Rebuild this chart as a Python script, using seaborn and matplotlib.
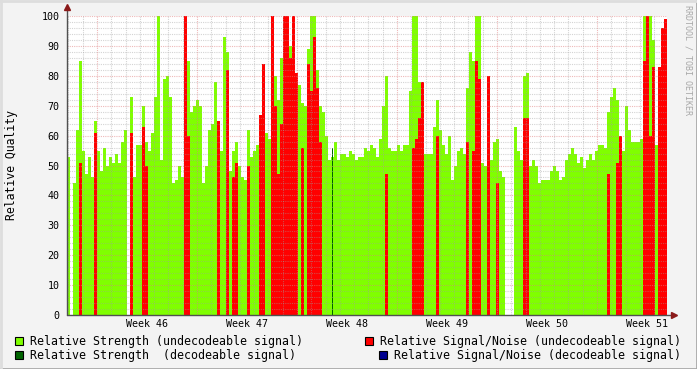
import numpy as np
import pandas as pd
import matplotlib
matplotlib.use("Agg")
import matplotlib.pyplot as plt
import seaborn as sns
from matplotlib.patches import Rectangle
from matplotlib.lines import Line2D

# ---------------- data (one value per ~5 hour step, 200 steps over 6 weeks) -------------
strength_undecodeable = [
    53, 0, 44, 62, 85, 55, 47, 53, 46, 65, 55, 48, 56, 50, 53, 51, 54, 51, 58, 62,
    0, 73, 46, 57, 57, 70, 58, 55, 61, 73, 100, 52, 79, 80, 73, 44, 45, 50, 46, 62,
    85, 68, 70, 72, 70, 44, 50, 62, 64, 78, 58, 55, 93, 88, 48, 55, 58, 50, 46, 45,
    62, 53, 55, 57, 67, 84, 61, 59, 82, 80, 72, 86, 80, 99, 90, 90, 71, 77, 71, 70,
    89, 100, 100, 82, 70, 68, 60, 52, 53, 58, 52, 54, 54, 53, 55, 54, 52, 53, 53, 56,
    55, 57, 56, 53, 59, 70, 80, 56, 55, 55, 57, 55, 57, 57, 75, 100, 100, 78, 70, 54,
    54, 54, 63, 72, 62, 57, 54, 60, 45, 50, 55, 56, 54, 76, 88, 85, 100, 100, 51, 50,
    45, 52, 58, 59, 48, 46, 0, 0, 0, 63, 55, 52, 80, 81, 50, 52, 50, 44, 45, 45,
    45, 48, 50, 48, 45, 46, 52, 54, 56, 54, 51, 53, 49, 52, 54, 52, 55, 57, 57, 56,
    68, 73, 76, 72, 60, 55, 70, 62, 58, 58, 58, 59, 100, 100, 100, 92, 57, 57, 57, 57,
]
snr_undecodeable = [
    0, 0, 0, 0, 51, 0, 0, 0, 0, 61, 0, 0, 0, 0, 0, 0, 0, 0, 0, 0,
    0, 61, 0, 0, 0, 63, 50, 0, 0, 0, 0, 0, 0, 0, 0, 0, 0, 0, 0, 100,
    60, 0, 0, 0, 0, 0, 0, 0, 0, 0, 65, 0, 0, 82, 0, 46, 51, 0, 0, 0,
    50, 0, 0, 0, 67, 84, 0, 0, 100, 70, 47, 64, 100, 100, 86, 100, 81, 0, 56, 0,
    84, 75, 93, 76, 58, 0, 0, 0, 0, 0, 0, 0, 0, 0, 0, 0, 0, 0, 0, 0,
    0, 0, 0, 0, 0, 0, 47, 0, 0, 0, 0, 0, 0, 0, 0, 56, 59, 66, 78, 0,
    0, 0, 0, 60, 0, 0, 0, 0, 0, 0, 0, 0, 0, 58, 0, 55, 85, 79, 0, 0,
    80, 0, 0, 44, 0, 0, 0, 0, 0, 0, 0, 0, 66, 66, 0, 0, 0, 0, 0, 0,
    0, 0, 0, 0, 0, 0, 0, 0, 0, 0, 0, 0, 0, 0, 0, 0, 0, 0, 0, 0,
    47, 0, 0, 51, 60, 0, 0, 0, 0, 0, 0, 0, 85, 100, 60, 83, 0, 83, 96, 99,
]
strength_decodeable = [
    0, 0, 0, 0, 0, 0, 0, 0, 0, 0, 0, 0, 0, 0, 0, 0, 0, 0, 0, 0,
    0, 0, 0, 0, 0, 0, 0, 0, 0, 0, 0, 0, 0, 0, 0, 0, 0, 0, 0, 0,
    0, 0, 0, 0, 0, 0, 0, 0, 0, 0, 0, 0, 0, 0, 0, 0, 0, 0, 0, 0,
    0, 0, 0, 0, 0, 0, 0, 0, 0, 0, 0, 0, 0, 0, 0, 0, 0, 0, 0, 0,
    0, 0, 0, 0, 0, 0, 0, 0, 56, 0, 0, 0, 0, 0, 0, 0, 0, 0, 0, 0,
    0, 0, 0, 0, 0, 0, 0, 0, 0, 0, 0, 0, 0, 0, 0, 0, 0, 0, 0, 0,
    0, 0, 0, 0, 0, 0, 0, 0, 0, 0, 0, 0, 0, 0, 0, 0, 0, 0, 0, 0,
    0, 0, 0, 0, 0, 0, 0, 0, 0, 0, 0, 0, 0, 0, 0, 0, 0, 0, 0, 0,
    0, 0, 0, 0, 0, 0, 0, 0, 0, 0, 0, 0, 0, 0, 0, 0, 0, 0, 0, 0,
    0, 0, 0, 0, 0, 0, 0, 0, 0, 0, 0, 0, 0, 0, 0, 0, 0, 0, 0, 0,
]
week_labels = ["Week 46", "Week 47", "Week 48", "Week 49", "Week 50", "Week 51"]
legend_labels = [
    "Relative Strength (undecodeable signal)",
    "Relative Strength  (decodeable signal)",
    "Relative Signal/Noise (undecodeable signal)",
    "Relative Signal/Noise (decodeable signal)",
]

# ---------------- layout / style ----------------
TOTAL_DAYS = 42.0
FIRST_MONDAY = 2.1
C_LIME, C_DKGREEN, C_RED, C_BLUE = "#80FF00", "#006400", "#FF0000", "#000090"

sns.set_theme(style="white")
plt.rcParams["font.family"] = ["DejaVu Sans Mono", "DejaVu Sans"]

W, H = 697, 369
fig = plt.figure(figsize=(W / 100, H / 100), dpi=100)
fig.patch.set_facecolor("#F3F3F3")
ax = fig.add_axes([67 / W, (H - 315) / H, 600 / W, 299 / H])
ax.set_facecolor("white")

n = len(strength_undecodeable)
step = TOTAL_DAYS / n
t = (np.arange(n) + 0.5) * step

df = pd.DataFrame({
    "t": t,
    "strength_u": strength_undecodeable,
    "snr_u": snr_undecodeable,
    "strength_d": strength_decodeable,
})

common = dict(x="t", native_scale=True, orient="x", errorbar=None, saturation=1,
              linewidth=0, antialiased=False, ax=ax)
sns.barplot(data=df, y="strength_u", width=1.0, color=C_LIME, **common)
sns.barplot(data=df, y="snr_u", width=0.7, color=C_RED, **common)
sns.barplot(data=df, y="strength_d", width=0.35, color=C_DKGREEN, **common)

ax.set_xlim(0, TOTAL_DAYS)
ax.set_ylim(0, 100)
ax.set_xlabel("")
ax.set_ylabel("")

# grid (drawn over the data, as rrdtool does)
dot = (0, (1, 1))
for v in range(2, 101, 2):
    if v % 10 == 0:
        ax.axhline(v, color="#E08080", alpha=0.55, lw=0.8, ls=dot, zorder=5)
    else:
        ax.axhline(v, color="#A0A0A0", alpha=0.45, lw=0.8, ls=dot, zorder=5)
days = np.arange(FIRST_MONDAY - 2, TOTAL_DAYS, 1.0)
mondays = np.arange(FIRST_MONDAY, TOTAL_DAYS, 7.0)
for d in days:
    if d <= 0.05:
        continue
    if np.any(np.isclose(d, mondays)):
        ax.axvline(d, color="#E08080", alpha=0.55, lw=0.8, ls=dot, zorder=5)
    else:
        ax.axvline(d, color="#A0A0A0", alpha=0.45, lw=0.8, ls=dot, zorder=5)

# axes
for s in ["top", "right", "left", "bottom"]:
    ax.spines[s].set_visible(False)
ax.plot([0, 0], [0, 1.03], transform=ax.transAxes, color="#505050", lw=1.0,
        clip_on=False, zorder=6)
ax.plot([0, 1.012], [0, 0], transform=ax.transAxes, color="#505050", lw=1.0,
        clip_on=False, zorder=6)
ax.plot([0], [1.03], transform=ax.transAxes, marker="^", color="#8B1A1A",
        markersize=4, clip_on=False, zorder=7)
ax.plot([1.012], [0], transform=ax.transAxes, marker=">", color="#8B1A1A",
        markersize=4, clip_on=False, zorder=7)

# ticks
ax.set_yticks(range(0, 101, 10))
ax.set_yticklabels([str(v) for v in range(0, 101, 10)])
ax.tick_params(axis="y", length=0, pad=5.5, labelsize=7.2, colors="#000000")
ax.set_xticks(mondays)
ax.set_xticklabels([])
ax.tick_params(axis="x", which="major", length=3, width=0.8, color="#E05050",
               direction="out")
ax.set_xticks(days[days > 0.05], minor=True)
ax.tick_params(axis="x", which="minor", length=2, width=0.6, color="#A0A0A0",
               direction="out")
for m, lab in zip(mondays, week_labels):
    ax.text(m + 3.5, -3.0, lab, ha="center", va="center", fontsize=7.2,
            color="#000000", clip_on=False)

# titles
fig.text(12 / W, 1 - 165 / H, "Relative Quality", rotation=90, ha="center",
         va="center", fontsize=8.3, color="#000000")
fig.text(688 / W, 1 - 5 / H, "RRDTOOL / TOBI OETIKER", rotation=270, ha="center",
         va="top", fontsize=6.0, color="#A8A8A8")

# legend
boxes = [(15, 337, C_LIME), (15, 351, C_DKGREEN), (365, 337, C_RED), (379, 351, C_BLUE)]
texts_x = [30, 30, 380, 394]
for (bx, by, c), tx, lab in zip(boxes, texts_x, legend_labels):
    fig.add_artist(Rectangle((bx / W, 1 - (by + 8) / H), 8 / W, 8 / H,
                             transform=fig.transFigure, facecolor=c,
                             edgecolor="#000000", lw=0.8))
    fig.text(tx / W, 1 - (by + 4) / H, lab, ha="left", va="center",
             fontsize=8.35, color="#000000")

# frame shading
fig.add_artist(Line2D([0, 1], [0.5 / H, 0.5 / H], transform=fig.transFigure,
                      color="#A8A8A8", lw=2))
fig.add_artist(Line2D([1 - 0.5 / W, 1 - 0.5 / W], [0, 1], transform=fig.transFigure,
                      color="#A8A8A8", lw=2))
fig.add_artist(Line2D([0, 1], [1 - 0.5 / H, 1 - 0.5 / H], transform=fig.transFigure,
                      color="#DDDDDD", lw=2))
fig.add_artist(Line2D([0.5 / W, 0.5 / W], [0, 1], transform=fig.transFigure,
                      color="#DDDDDD", lw=2))

fig.savefig("out.png", dpi=100, facecolor=fig.get_facecolor())
